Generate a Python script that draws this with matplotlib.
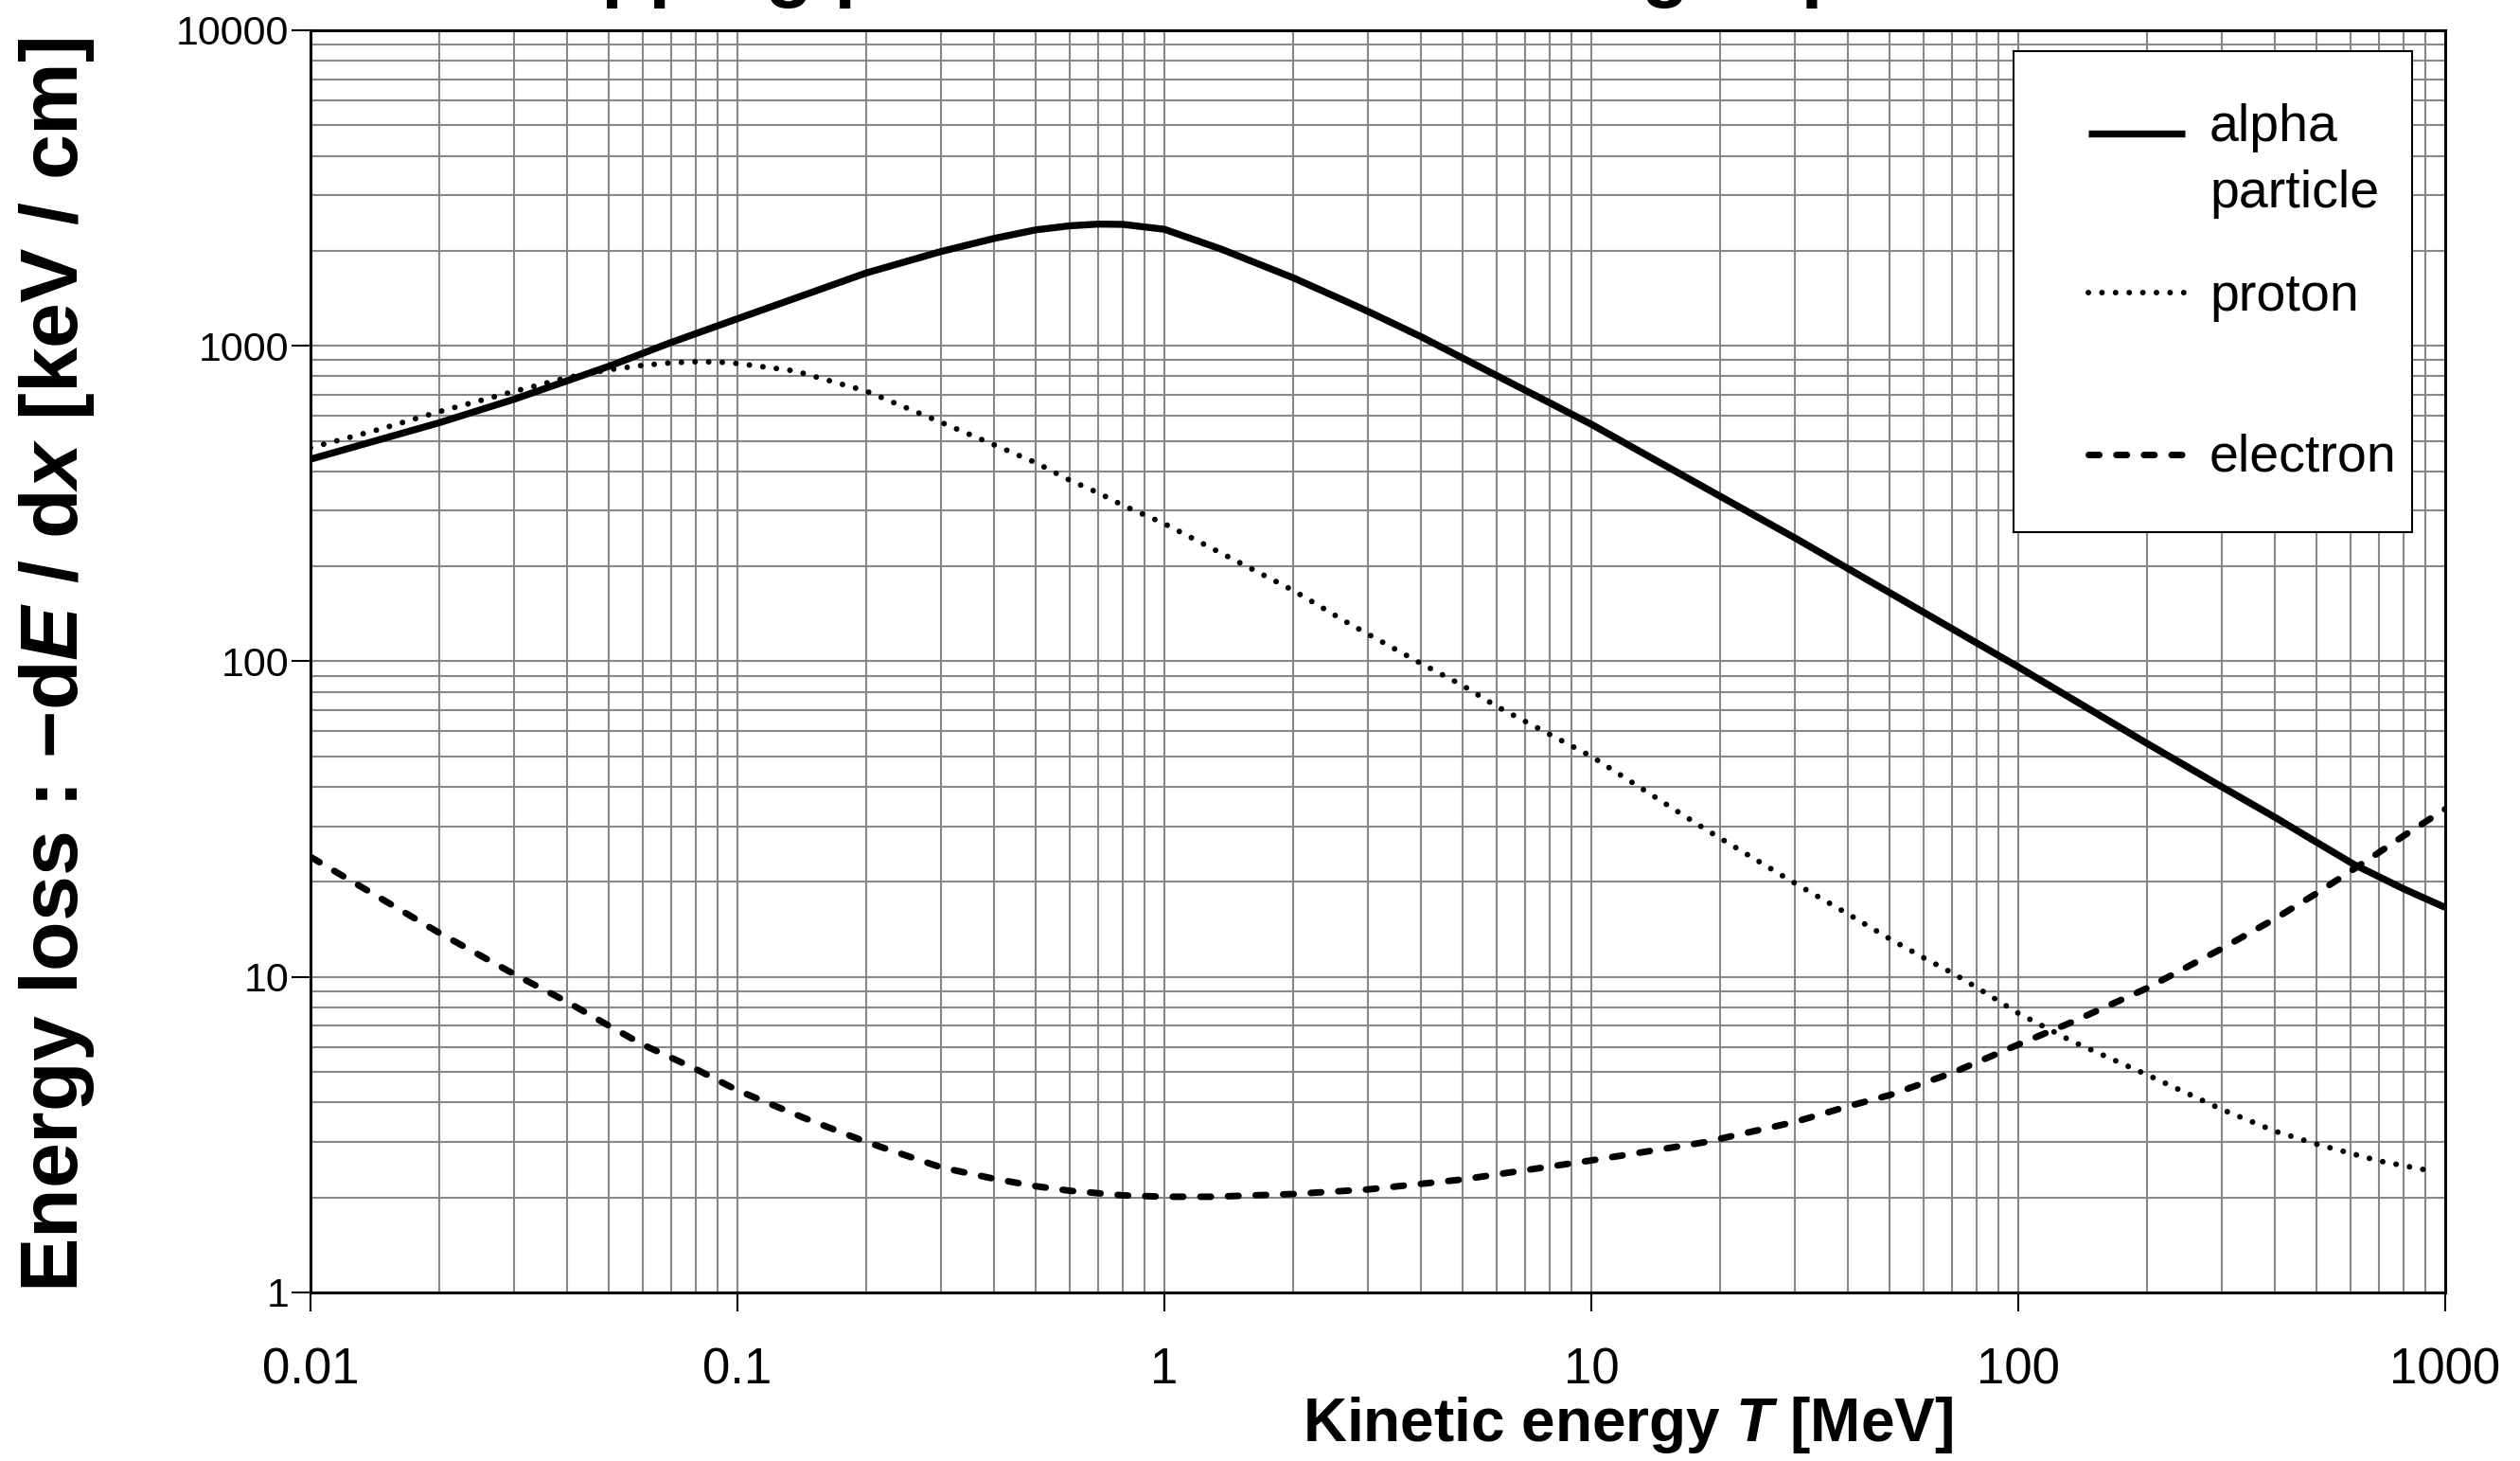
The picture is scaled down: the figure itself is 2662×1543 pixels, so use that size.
#!/usr/bin/env python3

import matplotlib
matplotlib.use("Agg")
import numpy as np
import matplotlib.pyplot as plt
from matplotlib.lines import Line2D
from matplotlib.patches import Rectangle
from matplotlib.ticker import LogLocator, FuncFormatter, NullFormatter


# Values (T in MeV, -dE/dx in keV/cm)
alpha_T = [0.01, 0.02, 0.03, 0.05, 0.07, 0.1, 0.15, 0.2, 0.3, 0.4, 0.5, 0.6,
           0.7, 0.8, 1.0, 1.36, 2.0, 2.64, 3, 4, 5, 6, 7, 8, 10, 20, 30, 50,
           100, 200, 300, 400, 500, 612, 800, 1000]
alpha_S = [437, 570, 677, 861, 1025, 1218, 1480, 1700, 1990, 2190, 2330, 2400,
           2430, 2425, 2340, 2024, 1644, 1390, 1285, 1067, 914, 805, 723, 659,
           564, 334, 246, 165, 96, 55, 40, 32, 26.7, 22.7, 19.0, 16.6]

proton_T = [0.01, 0.0144, 0.02, 0.03, 0.04, 0.05, 0.06, 0.07, 0.08, 0.09, 0.1,
            0.136, 0.2, 0.3, 0.4, 0.5, 0.6, 0.7, 0.8, 1.0, 2.0, 2.7, 4, 5, 6,
            7.4, 10, 18.4, 30, 40, 50, 60, 70, 80, 100, 134, 200, 300, 400,
            500, 700, 950]
proton_S = [475, 542, 618, 717, 793, 840, 867, 883, 890, 888, 879, 833, 719,
            572, 485, 426, 375, 342, 312, 273, 168, 132, 98.3, 83.8, 72, 62,
            50, 29.5, 19.8, 15.8, 13.2, 11.5, 10.3, 9.25, 7.67, 6.24, 4.90,
            3.80, 3.24, 2.95, 2.61, 2.41]

electron_T = [0.01, 0.02, 0.03, 0.04, 0.05, 0.06, 0.08, 0.1, 0.142, 0.2, 0.3,
              0.4, 0.5, 0.6, 0.8, 1.0, 1.3, 2.0, 3, 5, 10, 18.4, 30, 40, 50,
              70, 100, 134, 200, 300, 400, 500, 600, 700, 800, 1000]
electron_S = [24.0, 13.8, 10.2, 8.32, 7.0, 6.10, 5.10, 4.37, 3.59, 3.0, 2.49,
              2.29, 2.17, 2.10, 2.03, 2.01, 2.01, 2.05, 2.12, 2.28, 2.62, 2.99,
              3.47, 3.89, 4.22, 4.96, 6.1, 7.2, 9.2, 12.3, 15.3, 18.4, 21.6,
              24.8, 28.0, 34.0]

labels = ["alpha\nparticle", "proton", "electron"]
title = "Stopping power of various charged particles"

# line styles
ALPHA_STYLE = dict(color="black", lw=5.3, linestyle="-", solid_capstyle="butt")
PROTON_STYLE = dict(color="black", lw=4.3, linestyle=(0, (0.01, 2.4)),
                    dash_capstyle="round")
ELECTRON_STYLE = dict(color="black", lw=5.0, linestyle=(0, (1.6, 2.6)),
                      dash_capstyle="round")

plt.rcParams["font.family"] = ["Liberation Sans", "DejaVu Sans"]
plt.rcParams["mathtext.fontset"] = "custom"
plt.rcParams["mathtext.it"] = "Liberation Sans:italic:bold"
plt.rcParams["mathtext.rm"] = "Liberation Sans:bold"
plt.rcParams["mathtext.bf"] = "Liberation Sans:bold"


def main():
	fig = plt.figure(figsize=(26.62, 15.43), dpi=100)
	ax = fig.add_axes([0.1232, 0.1154, 0.8471, 0.8639])

	ax.plot(alpha_T, alpha_S, zorder=3, **ALPHA_STYLE)
	ax.plot(proton_T, proton_S, zorder=3, **PROTON_STYLE)
	ax.plot(electron_T, electron_S, zorder=3, **ELECTRON_STYLE)

	ax.set_xscale("log")
	ax.set_yscale("log")
	ax.set_xlim(0.01, 1000)
	ax.set_ylim(1, 10000)

	fmt = FuncFormatter(lambda v, p: "%g" % v)
	for axis in (ax.xaxis, ax.yaxis):
		axis.set_major_locator(LogLocator(base=10, numticks=20))
		axis.set_minor_locator(LogLocator(base=10, subs=np.arange(2, 10), numticks=100))
		axis.set_major_formatter(fmt)
		axis.set_minor_formatter(NullFormatter())

	ax.grid(which="both", color="#878787", lw=1.5)
	ax.set_axisbelow(True)
	ax.tick_params(which="major", direction="out", length=14.4, width=1.5,
	               top=False, right=False)
	ax.tick_params(axis="x", which="major", labelsize=38, pad=27)
	ax.tick_params(axis="y", which="major", labelsize=31, pad=2)
	ax.tick_params(which="minor", length=0)
	for sp in ax.spines.values():
		sp.set_linewidth(2.2)
		sp.set_color("black")
		sp.set_zorder(4)

	ax.set_xlabel("Kinetic energy $T$ [MeV]", fontsize=46, fontweight="bold")
	ax.xaxis.set_label_coords(0.617, -0.105)
	ax.xaxis.label.set_va("center")
	ax.set_ylabel("Energy loss : \u2212d$E$ / d$x$ [keV / cm]",
	              fontsize=62, fontweight="bold")
	ax.yaxis.set_label_coords(-0.119, 0.497)
	ax.yaxis.label.set_va("center")

	# title sits mostly above the canvas, only the descenders show
	fig.text(0.5154, 1.0052, title, ha="center", va="baseline",
	         fontsize=59, fontweight="bold")

	# hand made legend box
	box = Rectangle((0.798, 0.6024), 0.1865, 0.381, transform=ax.transAxes,
	                facecolor="white", edgecolor="black", lw=1.5, zorder=5)
	ax.add_patch(box)
	styles = [ALPHA_STYLE, PROTON_STYLE, ELECTRON_STYLE]
	handle_y = [0.918, 0.792, 0.664]
	text_y = [0.860, 0.778, 0.651]  # baseline of the last text line
	for style, hy, ty, lab in zip(styles, handle_y, text_y, labels):
		ax.add_line(Line2D([0.833, 0.878], [hy, hy], transform=ax.transAxes,
		                   zorder=6, **style))
		ax.text(0.8896, ty, lab, transform=ax.transAxes, fontsize=40,
		        va="baseline", ha="left", linespacing=1.43, zorder=6)

	fig.savefig("out.png", dpi=100)


if __name__ == "__main__":
	main()
